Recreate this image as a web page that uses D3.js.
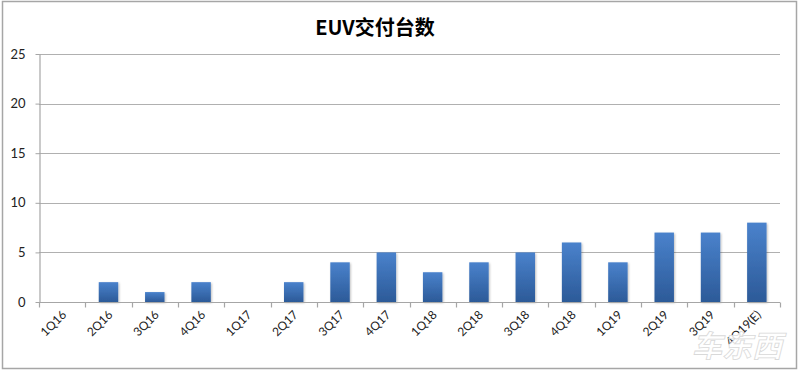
<!DOCTYPE html>
<html><head><meta charset="utf-8">
<script src="https://cdn.jsdelivr.net/npm/d3@7"></script>
<style>body{margin:0;background:#fff}svg{display:block}</style>
</head><body>
<svg id="c" width="800" height="371"></svg>
<script>
const categories = ["1Q16","2Q16","3Q16","4Q16","1Q17","2Q17","3Q17","4Q17","1Q18","2Q18","3Q18","4Q18","1Q19","2Q19","3Q19","4Q19(E)"];
const deliveries = [0,2,1,2,0,2,4,5,3,4,5,6,4,7,7,8];
const yTicks = [0,5,10,15,20,25];
const title = "EUV交付台数";

const svg = d3.select("#c");
const W = 800, H = 371;
const m = {l:39, r:20, t:54, b:69};
const x = d3.scaleBand().domain(categories).range([m.l, W - m.r]).paddingInner(0.58).paddingOuter(0.29);
const xb = d3.scaleBand().domain(categories).range([m.l, W - m.r]);
const y = d3.scaleLinear().domain([0,25]).range([H - m.b, m.t]);

const defs = svg.append("defs");
const g = defs.append("linearGradient").attr("id","bg").attr("x1",0).attr("y1",0).attr("x2",0).attr("y2",1);
g.append("stop").attr("offset","0%").attr("stop-color","#4a82cc");
g.append("stop").attr("offset","100%").attr("stop-color","#2c5a98");
const f = defs.append("filter").attr("id","sh").attr("x","-20%").attr("y","-20%").attr("width","150%").attr("height","150%");
f.append("feDropShadow").attr("dx",1).attr("dy",1).attr("stdDeviation",1).attr("flood-color","#000").attr("flood-opacity",0.25);

// outer border
svg.append("rect").attr("x",2.5).attr("y",1.5).attr("width",W-6).attr("height",H-4)
  .attr("fill","#fff").attr("stroke","#a6a6a6").attr("stroke-width",1.5);

// title
svg.append("text").attr("x",375).attr("y",35).attr("text-anchor","middle")
  .attr("font-family","'Noto Sans CJK SC', 'Noto Sans', sans-serif").attr("font-weight","bold")
  .attr("font-size",20).attr("fill","#000").text(title);

// gridlines
svg.append("g").selectAll("line").data(yTicks.filter(d=>d>0)).join("line")
  .attr("x1",m.l).attr("x2",W-m.r).attr("y1",d=>Math.round(y(d))+0.5).attr("y2",d=>Math.round(y(d))+0.5)
  .attr("stroke","#b0b0b0").attr("stroke-width",1.2);

// y axis
const ya = svg.append("g").attr("transform",`translate(${m.l+0.5},0)`)
  .call(d3.axisLeft(y).tickValues(yTicks).tickSize(4).tickSizeOuter(0).tickPadding(10));
ya.select(".domain").attr("stroke","#a6a6a6").attr("stroke-width",1.2);
ya.selectAll(".tick line").attr("stroke","#a6a6a6");
ya.selectAll(".tick text").attr("font-family","Lato, 'Open Sans', sans-serif").attr("font-size",13).attr("fill","#222");

// bars
svg.append("g").selectAll("rect").data(deliveries).join("rect")
  .attr("x",(d,i)=>x(categories[i])).attr("width",x.bandwidth())
  .attr("y",d=>y(d)).attr("height",d=>y(0)-y(d))
  .attr("fill","url(#bg)").attr("filter","url(#sh)");

// x axis
const xaY = Math.round(y(0))+0.5;
const xa = svg.append("g");
xa.append("line").attr("x1",m.l).attr("x2",W-m.r).attr("y1",xaY).attr("y2",xaY).attr("stroke","#a6a6a6").attr("stroke-width",1.2);
const bounds = categories.map(c=>xb(c)).concat([W-m.r]);
xa.selectAll("line.t").data(bounds).join("line").attr("class","t")
  .attr("x1",d=>Math.round(d)+0.5).attr("x2",d=>Math.round(d)+0.5).attr("y1",xaY).attr("y2",xaY+5)
  .attr("stroke","#a6a6a6").attr("stroke-width",1.2);
xa.selectAll("text").data(categories).join("text")
  .attr("transform",d=>`translate(${xb(d)+xb.bandwidth()/2+5},${xaY+13}) rotate(-45)`)
  .attr("text-anchor","end")
  .attr("font-family","Lato, 'Open Sans', sans-serif").attr("font-size",12).attr("fill","#222")
  .text(d=>d);

// watermark
svg.append("text").attr("x",782).attr("y",357).attr("text-anchor","end")
  .attr("font-family","'Noto Sans CJK SC', sans-serif").attr("font-weight","bold").attr("font-style","italic")
  .attr("font-size",30).attr("fill","#ffffff").attr("fill-opacity",0.85)
  .attr("stroke","#d9d9d9").attr("stroke-width",0.8).text("车东西");
</script>
</body></html>
